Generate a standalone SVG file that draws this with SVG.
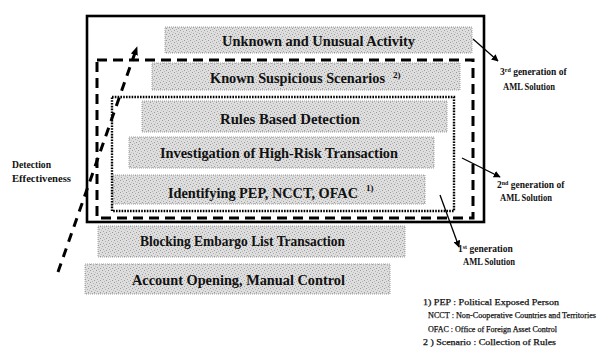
<svg xmlns="http://www.w3.org/2000/svg" width="604" height="353" viewBox="0 0 604 353">
<defs>
<pattern id="stip" width="6" height="6" patternUnits="userSpaceOnUse">
<rect width="6" height="6" fill="#dedede"/>
<rect x="0" y="0" width="1" height="1" fill="#9a9a9a"/>
<rect x="3" y="1" width="1" height="1" fill="#b0b0b0"/>
<rect x="1" y="3" width="1" height="1" fill="#a5a5a5"/>
<rect x="4" y="4" width="1" height="1" fill="#999"/>
<rect x="5" y="2" width="1" height="1" fill="#c0c0c0"/>
<rect x="2" y="5" width="1" height="1" fill="#b5b5b5"/>
</pattern>
<marker id="ah" viewBox="0 0 10 10" refX="9" refY="5" markerWidth="7" markerHeight="7" orient="auto" markerUnits="userSpaceOnUse">
<path d="M0,0 L10,5 L0,10 z" fill="#000"/>
</marker>
<marker id="ahb" viewBox="0 0 10 10" refX="9" refY="5" markerWidth="9" markerHeight="9" orient="auto" markerUnits="userSpaceOnUse">
<path d="M0,1 L10,5 L0,9 z" fill="#000"/>
</marker>
</defs>
<style>
.box{fill:url(#stip);stroke:#8a8a8a;stroke-width:0.8;stroke-dasharray:1 1}
.lbl{font-family:"Liberation Serif","Times New Roman",serif;font-weight:bold;font-size:15px;fill:#111}
.sup{font-family:"Liberation Serif","Times New Roman",serif;font-weight:bold;font-size:9px;fill:#111}
.side{font-family:"Liberation Serif","Times New Roman",serif;font-weight:bold;font-size:9.5px;fill:#111}
.note{font-family:"Liberation Serif","Times New Roman",serif;font-size:8.6px;fill:#111;stroke:#111;stroke-width:0.25}
.conn{stroke:#000;stroke-width:1.3;fill:none}
</style>
<rect width="604" height="353" fill="#fff"/>

<g id="n1"><rect class="box" x="165" y="27" width="307" height="26"/><text class="lbl" x="222" y="46" textLength="193" lengthAdjust="spacingAndGlyphs">Unknown and Unusual Activity</text></g>
<g id="n2"><rect class="box" x="152" y="63" width="308" height="27"/><text class="lbl" x="210" y="83" textLength="175" lengthAdjust="spacingAndGlyphs">Known Suspicious Scenarios</text><text class="sup" x="393" y="78">2)</text></g>
<g id="n3"><rect class="box" x="142" y="101" width="305" height="31"/><text class="lbl" x="220" y="124" textLength="140" lengthAdjust="spacingAndGlyphs">Rules Based Detection</text></g>
<g id="n4"><rect class="box" x="129" y="137" width="305" height="31"/><text class="lbl" x="160" y="158" textLength="238" lengthAdjust="spacingAndGlyphs">Investigation of High-Risk Transaction</text></g>
<g id="n5"><rect class="box" x="113" y="175" width="312" height="29"/><text class="lbl" x="168" y="198" textLength="190" lengthAdjust="spacingAndGlyphs">Identifying PEP, NCCT, OFAC</text><text class="sup" x="366" y="191">1)</text></g>
<g id="n6"><rect class="box" x="98" y="226" width="307" height="31"/><text class="lbl" x="140" y="246" textLength="205" lengthAdjust="spacingAndGlyphs">Blocking Embargo List Transaction</text></g>
<g id="n7"><rect class="box" x="85" y="264" width="305" height="30"/><text class="lbl" x="132" y="285" textLength="213" lengthAdjust="spacingAndGlyphs">Account Opening, Manual Control</text></g>

<g id="gen3"><rect x="87" y="16" width="397" height="206" fill="none" stroke="#000" stroke-width="2.6"/></g>
<g id="gen2"><rect x="97" y="60" width="376" height="158" fill="none" stroke="#000" stroke-width="3" stroke-dasharray="10 6"/></g>
<g id="gen1"><rect x="112" y="97" width="342" height="114" fill="none" stroke="#000" stroke-width="2.4" stroke-dasharray="1.6 1.2"/></g>

<g id="labels">
<text class="side" x="12" y="168" textLength="39" lengthAdjust="spacingAndGlyphs">Detection</text>
<text class="side" x="12" y="182" textLength="59" lengthAdjust="spacingAndGlyphs">Effectiveness</text>
<text class="side" x="500" y="75">3<tspan font-size="6" dy="-3">rd</tspan><tspan dy="3"> generation of</tspan></text>
<text class="side" x="503" y="90" textLength="52" lengthAdjust="spacingAndGlyphs">AML Solution</text>
<text class="side" x="497" y="188">2<tspan font-size="6" dy="-3">nd</tspan><tspan dy="3"> generation of</tspan></text>
<text class="side" x="500" y="201" textLength="52" lengthAdjust="spacingAndGlyphs">AML Solution</text>
<text class="side" x="458" y="252">1<tspan font-size="6" dy="-3">st</tspan><tspan dy="3">  generation</tspan></text>
<text class="side" x="463" y="265" textLength="52" lengthAdjust="spacingAndGlyphs">AML Solution</text>
<text class="note" x="423" y="305" textLength="136" lengthAdjust="spacingAndGlyphs">1) PEP : Political Exposed Person</text>
<text class="note" x="428" y="318" font-size="7.9" textLength="168" lengthAdjust="spacingAndGlyphs">NCCT : Non-Cooperative Countries and Territories</text>
<text class="note" x="428" y="332" textLength="129" lengthAdjust="spacingAndGlyphs">OFAC : Office of Foreign Asset Control</text>
<text class="note" x="423" y="345" textLength="133" lengthAdjust="spacingAndGlyphs">2 ) Scenario : Collection of Rules</text>
</g>

<g id="connectors">
<line x1="58" y1="272" x2="137" y2="47" stroke="#000" stroke-width="3" stroke-dasharray="9 7" marker-end="url(#ahb)"/>
<line class="conn" x1="473" y1="39" x2="498" y2="61" marker-end="url(#ah)"/>
<line class="conn" x1="462" y1="158" x2="500" y2="177" marker-end="url(#ah)"/>
<line class="conn" x1="440" y1="195" x2="459" y2="247" marker-end="url(#ah)"/>
</g>
</svg>
